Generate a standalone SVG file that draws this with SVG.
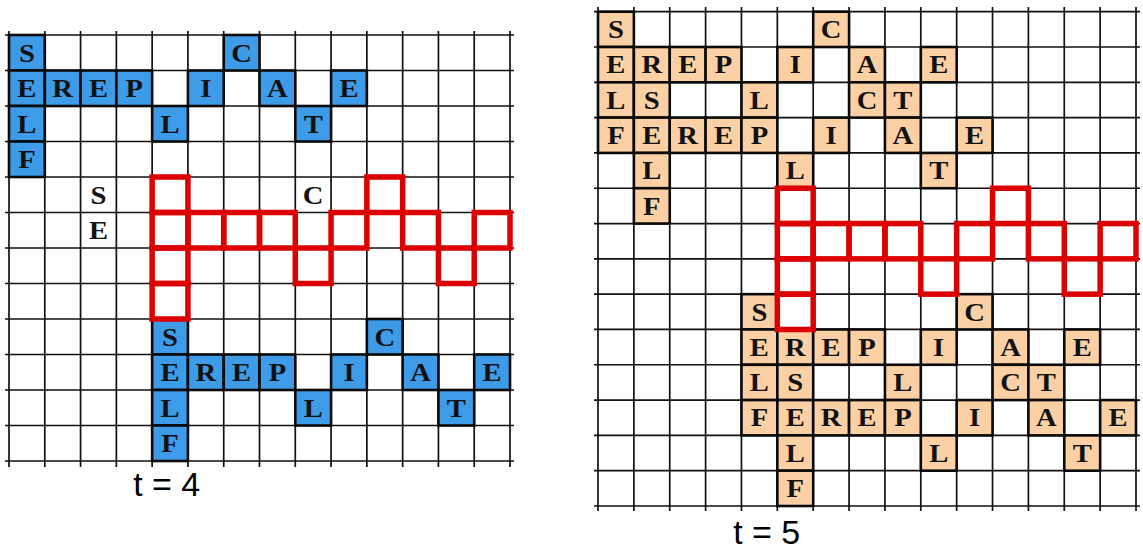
<svg xmlns="http://www.w3.org/2000/svg" width="1143" height="551" viewBox="0 0 1143 551">
<style>
.grid{fill:none;stroke:#111;stroke-width:1.7}
.b{fill:#3d9be8;stroke:#0a0a0a;stroke-width:2.6}
.p{fill:#fbd0a4;stroke:#0a0a0a;stroke-width:2.6}
.r{fill:none;stroke:#dd0000;stroke-width:5.5;stroke-linejoin:miter}
.t{font-family:"Liberation Serif","Times New Roman",serif;font-weight:bold;font-size:26px;fill:#121212;text-anchor:middle;transform-box:fill-box;transform-origin:center;transform:scaleX(1.1)}
.lab{font-family:"Liberation Sans",Arial,sans-serif;font-size:34px;fill:#000;text-anchor:middle}
</style>
<rect width="1143" height="551" fill="#fff"/>

<g id="panel-t4">
<path class="grid" d="M5 35H514M5 70.5H514M5 106H514M5 141.5H514M5 177H514M5 212.5H514M5 248H514M5 283.5H514M5 319H514M5 354.5H514M5 390H514M5 425.5H514M5 461H514
M9 31V467M44.79 31V467M80.57 31V467M116.36 31V467M152.14 31V467M187.93 31V467M223.72 31V467M259.5 31V467M295.29 31V467M331.07 31V467M366.86 31V467M402.65 31V467M438.43 31V467M474.22 31V467M510 31V467"/>
<g id="t4-top">
<rect class="b" x="9" y="35" width="35.79" height="35.5"/>
<rect class="b" x="223.72" y="35" width="35.79" height="35.5"/>
<rect class="b" x="9" y="70.5" width="35.79" height="35.5"/>
<rect class="b" x="44.79" y="70.5" width="35.79" height="35.5"/>
<rect class="b" x="80.57" y="70.5" width="35.79" height="35.5"/>
<rect class="b" x="116.36" y="70.5" width="35.79" height="35.5"/>
<rect class="b" x="187.93" y="70.5" width="35.79" height="35.5"/>
<rect class="b" x="259.5" y="70.5" width="35.79" height="35.5"/>
<rect class="b" x="331.07" y="70.5" width="35.79" height="35.5"/>
<rect class="b" x="9" y="106" width="35.79" height="35.5"/>
<rect class="b" x="152.14" y="106" width="35.79" height="35.5"/>
<rect class="b" x="295.29" y="106" width="35.79" height="35.5"/>
<rect class="b" x="9" y="141.5" width="35.79" height="35.5"/>
<text class="t" x="26.9" y="61.6">S</text>
<text class="t" x="241.6" y="61.6">C</text>
<text class="t" x="26.9" y="97.1">E</text>
<text class="t" x="62.7" y="97.1">R</text>
<text class="t" x="98.5" y="97.1">E</text>
<text class="t" x="134.3" y="97.1">P</text>
<text class="t" x="205.8" y="97.1">I</text>
<text class="t" x="277.4" y="97.1">A</text>
<text class="t" x="349" y="97.1">E</text>
<text class="t" x="26.9" y="132.6">L</text>
<text class="t" x="170" y="132.6">L</text>
<text class="t" x="313.2" y="132.6">T</text>
<text class="t" x="26.9" y="168.1">F</text>
</g>
<g id="t4-free">
<text class="t" x="98.5" y="203.6">S</text>
<text class="t" x="98.5" y="239.1">E</text>
<text class="t" x="313.2" y="203.6">C</text>
</g>
<g id="t4-bottom">
<rect class="b" x="152.14" y="319" width="35.79" height="35.5"/>
<rect class="b" x="366.86" y="319" width="35.79" height="35.5"/>
<rect class="b" x="152.14" y="354.5" width="35.79" height="35.5"/>
<rect class="b" x="187.93" y="354.5" width="35.79" height="35.5"/>
<rect class="b" x="223.72" y="354.5" width="35.79" height="35.5"/>
<rect class="b" x="259.5" y="354.5" width="35.79" height="35.5"/>
<rect class="b" x="331.07" y="354.5" width="35.79" height="35.5"/>
<rect class="b" x="402.65" y="354.5" width="35.79" height="35.5"/>
<rect class="b" x="474.22" y="354.5" width="35.79" height="35.5"/>
<rect class="b" x="152.14" y="390" width="35.79" height="35.5"/>
<rect class="b" x="295.29" y="390" width="35.79" height="35.5"/>
<rect class="b" x="438.43" y="390" width="35.79" height="35.5"/>
<rect class="b" x="152.14" y="425.5" width="35.79" height="35.5"/>
<text class="t" x="170" y="345.6">S</text>
<text class="t" x="384.8" y="345.6">C</text>
<text class="t" x="170" y="381.1">E</text>
<text class="t" x="205.8" y="381.1">R</text>
<text class="t" x="241.6" y="381.1">E</text>
<text class="t" x="277.4" y="381.1">P</text>
<text class="t" x="349" y="381.1">I</text>
<text class="t" x="420.5" y="381.1">A</text>
<text class="t" x="492.1" y="381.1">E</text>
<text class="t" x="170" y="416.6">L</text>
<text class="t" x="313.2" y="416.6">L</text>
<text class="t" x="456.3" y="416.6">T</text>
<text class="t" x="170" y="452.1">F</text>
</g>
<g id="t4-template">
<rect class="r" x="152.14" y="177" width="35.79" height="35.5"/>
<rect class="r" x="152.14" y="212.5" width="35.79" height="35.5"/>
<rect class="r" x="152.14" y="248" width="35.79" height="35.5"/>
<rect class="r" x="152.14" y="283.5" width="35.79" height="35.5"/>
<rect class="r" x="187.93" y="212.5" width="35.79" height="35.5"/>
<rect class="r" x="223.72" y="212.5" width="35.79" height="35.5"/>
<rect class="r" x="259.5" y="212.5" width="35.79" height="35.5"/>
<rect class="r" x="295.29" y="248" width="35.79" height="35.5"/>
<rect class="r" x="331.07" y="212.5" width="35.79" height="35.5"/>
<rect class="r" x="366.86" y="177" width="35.79" height="35.5"/>
<rect class="r" x="402.65" y="212.5" width="35.79" height="35.5"/>
<rect class="r" x="438.43" y="248" width="35.79" height="35.5"/>
<rect class="r" x="474.22" y="212.5" width="35.79" height="35.5"/>
</g>
<text id="label-t4" class="lab" x="166.7" y="496">t = 4</text>
</g>

<g id="panel-t5">
<path class="grid" d="M594 11.7H1140M594 47.01H1140M594 82.31H1140M594 117.62H1140M594 152.93H1140M594 188.24H1140M594 223.54H1140M594 258.85H1140M594 294.16H1140M594 329.46H1140M594 364.77H1140M594 400.08H1140M594 435.38H1140M594 470.69H1140M594 506H1140
M598 7V511M633.87 7V511M669.73 7V511M705.6 7V511M741.47 7V511M777.33 7V511M813.2 7V511M849.07 7V511M884.93 7V511M920.8 7V511M956.67 7V511M992.53 7V511M1028.4 7V511M1064.27 7V511M1100.13 7V511M1136 7V511"/>
<g id="t5-top">
<rect class="p" x="598" y="11.7" width="35.87" height="35.31"/>
<rect class="p" x="813.2" y="11.7" width="35.87" height="35.31"/>
<rect class="p" x="598" y="47.01" width="35.87" height="35.31"/>
<rect class="p" x="633.87" y="47.01" width="35.87" height="35.31"/>
<rect class="p" x="669.73" y="47.01" width="35.87" height="35.31"/>
<rect class="p" x="705.6" y="47.01" width="35.87" height="35.31"/>
<rect class="p" x="777.33" y="47.01" width="35.87" height="35.31"/>
<rect class="p" x="849.07" y="47.01" width="35.87" height="35.31"/>
<rect class="p" x="920.8" y="47.01" width="35.87" height="35.31"/>
<rect class="p" x="598" y="82.31" width="35.87" height="35.31"/>
<rect class="p" x="633.87" y="82.31" width="35.87" height="35.31"/>
<rect class="p" x="741.47" y="82.31" width="35.87" height="35.31"/>
<rect class="p" x="849.07" y="82.31" width="35.87" height="35.31"/>
<rect class="p" x="884.93" y="82.31" width="35.87" height="35.31"/>
<rect class="p" x="598" y="117.62" width="35.87" height="35.31"/>
<rect class="p" x="633.87" y="117.62" width="35.87" height="35.31"/>
<rect class="p" x="669.73" y="117.62" width="35.87" height="35.31"/>
<rect class="p" x="705.6" y="117.62" width="35.87" height="35.31"/>
<rect class="p" x="741.47" y="117.62" width="35.87" height="35.31"/>
<rect class="p" x="813.2" y="117.62" width="35.87" height="35.31"/>
<rect class="p" x="884.93" y="117.62" width="35.87" height="35.31"/>
<rect class="p" x="956.67" y="117.62" width="35.87" height="35.31"/>
<rect class="p" x="633.87" y="152.93" width="35.87" height="35.31"/>
<rect class="p" x="777.33" y="152.93" width="35.87" height="35.31"/>
<rect class="p" x="920.8" y="152.93" width="35.87" height="35.31"/>
<rect class="p" x="633.87" y="188.24" width="35.87" height="35.31"/>
<text class="t" x="615.9" y="38.2">S</text>
<text class="t" x="831.1" y="38.2">C</text>
<text class="t" x="615.9" y="73.5">E</text>
<text class="t" x="651.8" y="73.5">R</text>
<text class="t" x="687.7" y="73.5">E</text>
<text class="t" x="723.5" y="73.5">P</text>
<text class="t" x="795.3" y="73.5">I</text>
<text class="t" x="867" y="73.5">A</text>
<text class="t" x="938.7" y="73.5">E</text>
<text class="t" x="615.9" y="108.8">L</text>
<text class="t" x="651.8" y="108.8">S</text>
<text class="t" x="759.4" y="108.8">L</text>
<text class="t" x="867" y="108.8">C</text>
<text class="t" x="902.9" y="108.8">T</text>
<text class="t" x="615.9" y="144.1">F</text>
<text class="t" x="651.8" y="144.1">E</text>
<text class="t" x="687.7" y="144.1">R</text>
<text class="t" x="723.5" y="144.1">E</text>
<text class="t" x="759.4" y="144.1">P</text>
<text class="t" x="831.1" y="144.1">I</text>
<text class="t" x="902.9" y="144.1">A</text>
<text class="t" x="974.6" y="144.1">E</text>
<text class="t" x="651.8" y="179.4">L</text>
<text class="t" x="795.3" y="179.4">L</text>
<text class="t" x="938.7" y="179.4">T</text>
<text class="t" x="651.8" y="214.7">F</text>
</g>
<g id="t5-bottom">
<rect class="p" x="741.47" y="294.16" width="35.87" height="35.31"/>
<rect class="p" x="956.67" y="294.16" width="35.87" height="35.31"/>
<rect class="p" x="741.47" y="329.46" width="35.87" height="35.31"/>
<rect class="p" x="777.33" y="329.46" width="35.87" height="35.31"/>
<rect class="p" x="813.2" y="329.46" width="35.87" height="35.31"/>
<rect class="p" x="849.07" y="329.46" width="35.87" height="35.31"/>
<rect class="p" x="920.8" y="329.46" width="35.87" height="35.31"/>
<rect class="p" x="992.53" y="329.46" width="35.87" height="35.31"/>
<rect class="p" x="1064.27" y="329.46" width="35.87" height="35.31"/>
<rect class="p" x="741.47" y="364.77" width="35.87" height="35.31"/>
<rect class="p" x="777.33" y="364.77" width="35.87" height="35.31"/>
<rect class="p" x="884.93" y="364.77" width="35.87" height="35.31"/>
<rect class="p" x="992.53" y="364.77" width="35.87" height="35.31"/>
<rect class="p" x="1028.4" y="364.77" width="35.87" height="35.31"/>
<rect class="p" x="741.47" y="400.08" width="35.87" height="35.31"/>
<rect class="p" x="777.33" y="400.08" width="35.87" height="35.31"/>
<rect class="p" x="813.2" y="400.08" width="35.87" height="35.31"/>
<rect class="p" x="849.07" y="400.08" width="35.87" height="35.31"/>
<rect class="p" x="884.93" y="400.08" width="35.87" height="35.31"/>
<rect class="p" x="956.67" y="400.08" width="35.87" height="35.31"/>
<rect class="p" x="1028.4" y="400.08" width="35.87" height="35.31"/>
<rect class="p" x="1100.13" y="400.08" width="35.87" height="35.31"/>
<rect class="p" x="777.33" y="435.38" width="35.87" height="35.31"/>
<rect class="p" x="920.8" y="435.38" width="35.87" height="35.31"/>
<rect class="p" x="1064.27" y="435.38" width="35.87" height="35.31"/>
<rect class="p" x="777.33" y="470.69" width="35.87" height="35.31"/>
<text class="t" x="759.4" y="320.6">S</text>
<text class="t" x="974.6" y="320.6">C</text>
<text class="t" x="759.4" y="355.9">E</text>
<text class="t" x="795.3" y="355.9">R</text>
<text class="t" x="831.1" y="355.9">E</text>
<text class="t" x="867" y="355.9">P</text>
<text class="t" x="938.7" y="355.9">I</text>
<text class="t" x="1010.5" y="355.9">A</text>
<text class="t" x="1082.2" y="355.9">E</text>
<text class="t" x="759.4" y="391.2">L</text>
<text class="t" x="795.3" y="391.2">S</text>
<text class="t" x="902.9" y="391.2">L</text>
<text class="t" x="1010.5" y="391.2">C</text>
<text class="t" x="1046.3" y="391.2">T</text>
<text class="t" x="759.4" y="426.5">F</text>
<text class="t" x="795.3" y="426.5">E</text>
<text class="t" x="831.1" y="426.5">R</text>
<text class="t" x="867" y="426.5">E</text>
<text class="t" x="902.9" y="426.5">P</text>
<text class="t" x="974.6" y="426.5">I</text>
<text class="t" x="1046.3" y="426.5">A</text>
<text class="t" x="1118.1" y="426.5">E</text>
<text class="t" x="795.3" y="461.8">L</text>
<text class="t" x="938.7" y="461.8">L</text>
<text class="t" x="1082.2" y="461.8">T</text>
<text class="t" x="795.3" y="497.1">F</text>
</g>
<g id="t5-template">
<rect class="r" x="777.33" y="188.24" width="35.87" height="35.31"/>
<rect class="r" x="777.33" y="223.54" width="35.87" height="35.31"/>
<rect class="r" x="777.33" y="258.85" width="35.87" height="35.31"/>
<rect class="r" x="777.33" y="294.16" width="35.87" height="35.31"/>
<rect class="r" x="813.2" y="223.54" width="35.87" height="35.31"/>
<rect class="r" x="849.07" y="223.54" width="35.87" height="35.31"/>
<rect class="r" x="884.93" y="223.54" width="35.87" height="35.31"/>
<rect class="r" x="920.8" y="258.85" width="35.87" height="35.31"/>
<rect class="r" x="956.67" y="223.54" width="35.87" height="35.31"/>
<rect class="r" x="992.53" y="188.24" width="35.87" height="35.31"/>
<rect class="r" x="1028.4" y="223.54" width="35.87" height="35.31"/>
<rect class="r" x="1064.27" y="258.85" width="35.87" height="35.31"/>
<rect class="r" x="1100.13" y="223.54" width="35.87" height="35.31"/>
</g>
<text id="label-t5" class="lab" x="766.7" y="544">t = 5</text>
</g>
</svg>
